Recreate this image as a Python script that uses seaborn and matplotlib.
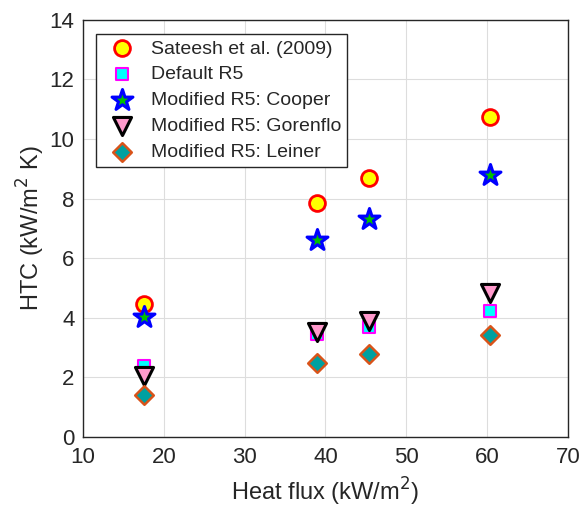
import matplotlib
matplotlib.use("Agg")
import matplotlib.pyplot as plt
import seaborn as sns
import pandas as pd

heat_flux = [17.5, 39.0, 45.4, 60.4]
sateesh = [4.45, 7.85, 8.68, 10.75]
default_r5 = [2.38, 3.45, 3.70, 4.22]
cooper = [4.02, 6.62, 7.30, 8.78]
gorenflo = [2.05, 3.52, 3.90, 4.82]
leiner = [1.42, 2.48, 2.77, 3.43]

series_names = ["Sateesh et al. (2009)", "Default R5", "Modified R5: Cooper",
                "Modified R5: Gorenflo", "Modified R5: Leiner"]
series_values = [sateesh, default_r5, cooper, gorenflo, leiner]

rows = []
for name, vals in zip(series_names, series_values):
    for x, y in zip(heat_flux, vals):
        rows.append({"q": x, "htc": y, "series": name})
df = pd.DataFrame(rows)

styles = {
    "Sateesh et al. (2009)": dict(marker="o", s=130, color="#FFFF00", edgecolor="#FF0000", linewidth=2),
    "Default R5": dict(marker="s", s=65, color="#00FFFF", edgecolor="#FF00FF", linewidth=1.5),
    "Modified R5: Cooper": dict(marker="*", s=250, color="#00C000", edgecolor="#0000FF", linewidth=2.2),
    "Modified R5: Gorenflo": dict(marker="v", s=170, color="#FF99CC", edgecolor="#000000", linewidth=2.2),
    "Modified R5: Leiner": dict(marker="D", s=90, color="#00A0A0", edgecolor="#D95319", linewidth=1.8),
}

sns.set_style("whitegrid")
plt.rcParams['font.family'] = ['Liberation Sans', 'DejaVu Sans']

fig = plt.figure(figsize=(5.88, 5.08), dpi=100)
ax = fig.add_axes([0.141, 0.140, 0.825, 0.821])

for name in series_names:
    sub = df[df["series"] == name]
    sns.scatterplot(data=sub, x="q", y="htc", ax=ax, label=name, zorder=3, **styles[name])

ax.set_xlim(10, 70)
ax.set_ylim(0, 14)
ax.set_xticks(range(10, 71, 10))
ax.set_yticks(range(0, 15, 2))
ax.grid(True, color="#DDDDDD", linewidth=0.8)
for sp in ax.spines.values():
    sp.set_color("#262626")
    sp.set_linewidth(1.0)
ax.tick_params(axis="both", labelsize=16, direction="in", length=4, color="#262626", labelcolor="#262626")
ax.tick_params(axis="x", pad=7)
ax.tick_params(axis="y", pad=6)
ax.set_xlabel("Heat flux (kW/m$^2$)", fontsize=17, color="#262626", labelpad=6)
ax.set_ylabel("HTC (kW/m$^2$ K)", fontsize=17, color="#262626", labelpad=2)

leg = ax.legend(loc="upper left", bbox_to_anchor=(0.02, 0.975), fontsize=14, frameon=True,
                fancybox=False, edgecolor="#262626", framealpha=1, borderpad=0.3,
                labelspacing=0.42, handletextpad=0.5, handlelength=2.0, borderaxespad=0.2)
leg.get_frame().set_linewidth(1.0)

fig.savefig("out.png", dpi=100)
